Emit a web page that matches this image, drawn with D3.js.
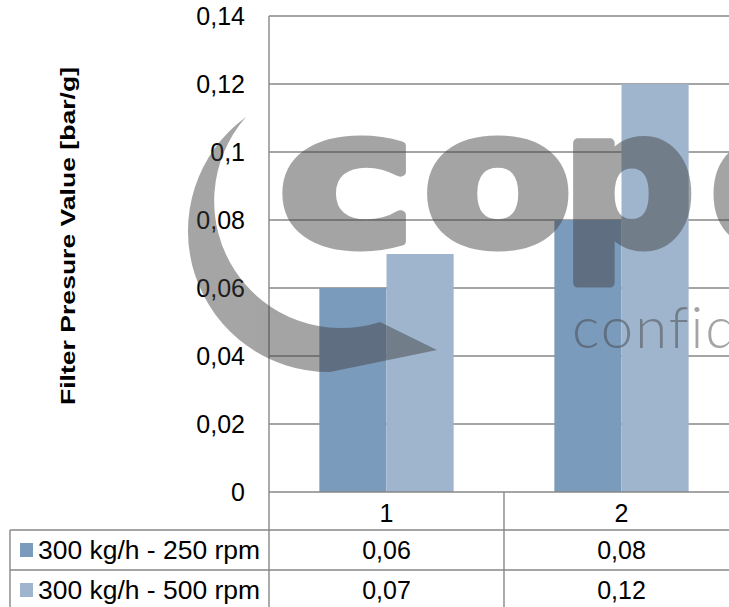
<!DOCTYPE html>
<html>
<head>
<meta charset="utf-8">
<script src="https://cdn.jsdelivr.net/npm/d3@7"></script>
<style>
  body { margin: 0; background: #fff; }
  svg { display: block; font-family: "Liberation Sans", Arial, sans-serif; }
</style>
</head>
<body>
<div id="chart"></div>
<script>
// data
const categories = ["1", "2"];
const seriesNames = ["300 kg/h - 250 rpm", "300 kg/h - 500 rpm"];
const values250 = [0.06, 0.08];
const values500 = [0.07, 0.12];
const yTicks = [0, 0.02, 0.04, 0.06, 0.08, 0.1, 0.12, 0.14];
const colors = ["#7b9bbc", "#9fb5ce"];

const width = 729, height = 607;
const plot = {left: 269, top: 16, bottom: 492, right: 739};
const rowTop = [530, 570];
const gridColor = "#878787";

const svg = d3.select("#chart").append("svg")
    .attr("width", width)
    .attr("height", height);

const locale = d3.formatLocale({decimal: ",", thousands: ".", grouping: [3], currency: ["", ""]});
const fmt = locale.format("~g");

const y = d3.scaleLinear()
    .domain([0, 0.14])
    .range([plot.bottom, plot.top]);

const x0 = d3.scaleBand()
    .domain(categories)
    .range([plot.left, plot.right]);

const x1 = d3.scaleBand()
    .domain([0, 1])
    .range([0, x0.bandwidth()])
    .paddingInner(0)
    .paddingOuter(0.75);

// gridlines
svg.append("g")
    .selectAll("line")
    .data(yTicks.slice(1))
    .enter().append("line")
        .attr("x1", plot.left)
        .attr("x2", width)
        .attr("y1", d => y(d))
        .attr("y2", d => y(d))
        .style("stroke", gridColor)
        .style("stroke-width", 1.4);

// bars
const series = [values250, values500];
const group = svg.append("g")
    .selectAll("g")
    .data(categories)
    .enter().append("g")
        .attr("transform", d => `translate(${x0(d)},0)`);

group.selectAll("rect")
    .data((d, i) => series.map((s, k) => ({k: k, v: s[i]})))
    .enter().append("rect")
        .attr("x", d => x1(d.k))
        .attr("width", x1.bandwidth())
        .attr("y", d => y(d.v))
        .attr("height", d => y(0) - y(d.v))
        .attr("fill", d => colors[d.k]);

// y axis labels
const yAxis = svg.append("g")
    .attr("transform", `translate(${plot.left},0)`)
    .call(d3.axisLeft(y).tickValues(yTicks).tickFormat(fmt).tickSize(0).tickPadding(24));
yAxis.select(".domain").remove();
yAxis.selectAll("text")
    .style("font-size", "25px")
    .style("font-family", "'Liberation Sans', Arial, sans-serif")
    .style("fill", "#000");

// table lines
const lines = svg.append("g")
    .style("stroke", gridColor)
    .style("stroke-width", 1.4);
lines.append("line").attr("x1", plot.left).attr("x2", width).attr("y1", plot.bottom).attr("y2", plot.bottom);
rowTop.forEach(r => {
    lines.append("line").attr("x1", 10).attr("x2", width).attr("y1", r).attr("y2", r);
});
lines.append("line").attr("x1", 10).attr("x2", 10).attr("y1", rowTop[0]).attr("y2", height);
lines.append("line").attr("x1", plot.left).attr("x2", plot.left).attr("y1", plot.top).attr("y2", height);
categories.forEach(c => {
    const xe = x0(c) + x0.bandwidth();
    lines.append("line").attr("x1", xe).attr("x2", xe).attr("y1", plot.bottom).attr("y2", height);
});

// category labels
svg.append("g")
    .selectAll("text")
    .data(categories)
    .enter().append("text")
        .attr("x", d => x0(d) + x0.bandwidth() / 2)
        .attr("y", 522)
        .attr("text-anchor", "middle")
        .style("font-size", "25px")
        .text(d => d);

// table values + legend
series.forEach((s, k) => {
    const base = rowTop[k] + 29;
    svg.append("rect")
        .attr("x", 20)
        .attr("y", rowTop[k] + 13)
        .attr("width", 13)
        .attr("height", 14)
        .attr("fill", colors[k]);
    svg.append("text")
        .attr("x", 38)
        .attr("y", base)
        .attr("textLength", 222)
        .attr("lengthAdjust", "spacingAndGlyphs")
        .style("font-size", "25px")
        .text(seriesNames[k]);
    svg.append("g")
        .selectAll("text")
        .data(s)
        .enter().append("text")
            .attr("x", (d, i) => x0(categories[i]) + x0.bandwidth() / 2)
            .attr("y", base)
            .attr("text-anchor", "middle")
            .style("font-size", "25px")
            .text(d => fmt(d));
});

// y axis title
svg.append("text")
    .attr("transform", "translate(75,236) rotate(-90)")
    .attr("text-anchor", "middle")
    .attr("textLength", 338)
    .attr("lengthAdjust", "spacingAndGlyphs")
    .style("font-size", "21px")
    .style("font-weight", "bold")
    .text("Filter Presure Value [bar/g]");

// watermark overlay (sits on top of the chart)
const wm = svg.append("g")
    .attr("opacity", 0.47)
    .attr("fill", "#404040");
wm.append("path")
    .attr("d", "M246,117 A141,141 0 0,0 330,372 L437,350 L380,322 A127,127 0 0,1 246,117 Z");
// big logo letters, each nudged / widened a bit to match
const logo = [["c", 278, 1.25], ["o", 423, 1.17], ["p", 562, 1.0], ["e", 710, 1.0]];
wm.selectAll("text.logo")
    .data(logo)
    .enter().append("text")
        .attr("class", "logo")
        .attr("transform", d => `translate(${d[1]},244) scale(${d[2]},1)`)
        .attr("stroke", "#404040")
        .style("font-family", "'DejaVu Sans', sans-serif")
        .style("font-weight", "bold")
        .style("font-size", "186px")
        .style("stroke-width", 9)
        .style("stroke-linejoin", "round")
        .text(d => d[0]);
wm.append("text")
    .attr("x", 572)
    .attr("y", 348)
    .style("font-family", "Lato, sans-serif")
    .style("font-weight", 300)
    .style("font-size", "58px")
    .style("letter-spacing", "2px")
    .text("confidential");
</script>
</body>
</html>
